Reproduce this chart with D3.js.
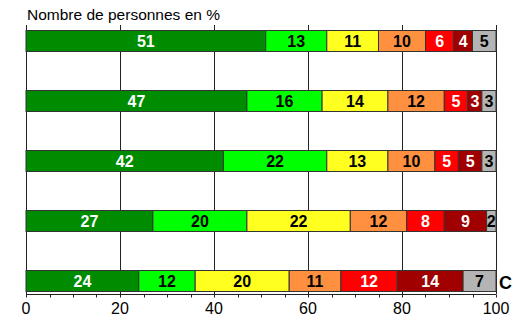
<!DOCTYPE html>
<html><head><meta charset="utf-8">
<script src="https://cdn.jsdelivr.net/npm/d3@7"></script>
<style>body{margin:0;background:#fff}svg{display:block;font-family:"Liberation Sans",Arial,sans-serif}</style>
</head><body>
<script>
const rows = ["r1","r2","r3","r4","r5"];
const v1 = [51,13,11,10,6,4,5];
const v2 = [47,16,14,12,5,3,3];
const v3 = [42,22,13,10,5,5,3];
const v4 = [27,20,22,12,8,9,2];
const v5 = [24,12,20,11,12,14,7];
const values = [v1,v2,v3,v4,v5];
const colors = ["#008c00","#00ff00","#ffff20","#ff9040","#ff0000","#a00000","#b4b4b4"];
const textColors = ["#fff","#000","#000","#000","#fff","#fff","#000"];
const xTicks = [0,20,40,60,80,100];
const title = "Nombre de personnes en %";

const W=512,H=316;
const svg=d3.select("body").append("svg").attr("width",W).attr("height",H);
const x=d3.scaleLinear().domain([0,100]).range([26,496]);
const y=d3.scaleBand().domain(rows).range([24.5,297.5]).paddingInner(0.65).paddingOuter(0.1);

// grid
svg.append("g").selectAll("line").data(xTicks).join("line")
  .attr("x1",d=>Math.round(x(d))+0.5).attr("x2",d=>Math.round(x(d))+0.5)
  .attr("y1",25).attr("y2",294).attr("stroke","#222").attr("stroke-width",1);

values.forEach((vals,i)=>{
  let cum=0;
  const segs=vals.map((v,j)=>{const s={v,j,x0:cum,x1:cum+v};cum+=v;return s;});
  const g=svg.append("g");
  const yy=y(rows[i]), h=y.bandwidth();
  g.selectAll("rect").data(segs).join("rect")
    .attr("x",d=>x(d.x0)).attr("width",d=>x(d.x1)-x(d.x0))
    .attr("y",yy).attr("height",h)
    .attr("fill",d=>colors[d.j]).attr("stroke","#333").attr("stroke-width",1);
  g.selectAll("text").data(segs).join("text")
    .attr("x",d=>(x(d.x0)+x(d.x1))/2).attr("y",yy+h/2+6)
    .attr("text-anchor","middle").attr("font-size",16).attr("font-weight","bold")
    .attr("fill",d=>textColors[d.j]).text(d=>d.v);
});

// axis
const ax=svg.append("g").attr("transform","translate(0,294.5)");
ax.append("line").attr("x1",26).attr("x2",496).attr("stroke","#222");
ax.selectAll("line.minor").data(d3.range(0,101,5)).join("line").attr("class","minor")
  .attr("x1",d=>Math.round(x(d))+0.5).attr("x2",d=>Math.round(x(d))+0.5)
  .attr("y1",0).attr("y2",3).attr("stroke","#222");
ax.selectAll("text").data(xTicks).join("text")
  .attr("x",d=>x(d)).attr("y",19).attr("text-anchor","middle")
  .attr("font-size",16).attr("fill","#000").text(d=>d);

svg.append("text").attr("x",27).attr("y",20).attr("font-size",15.5).attr("fill","#000").text(title);
svg.append("text").attr("x",499).attr("y",289).attr("font-size",18).attr("font-weight","bold").attr("fill","#000").text("C");
</script>
</body></html>
